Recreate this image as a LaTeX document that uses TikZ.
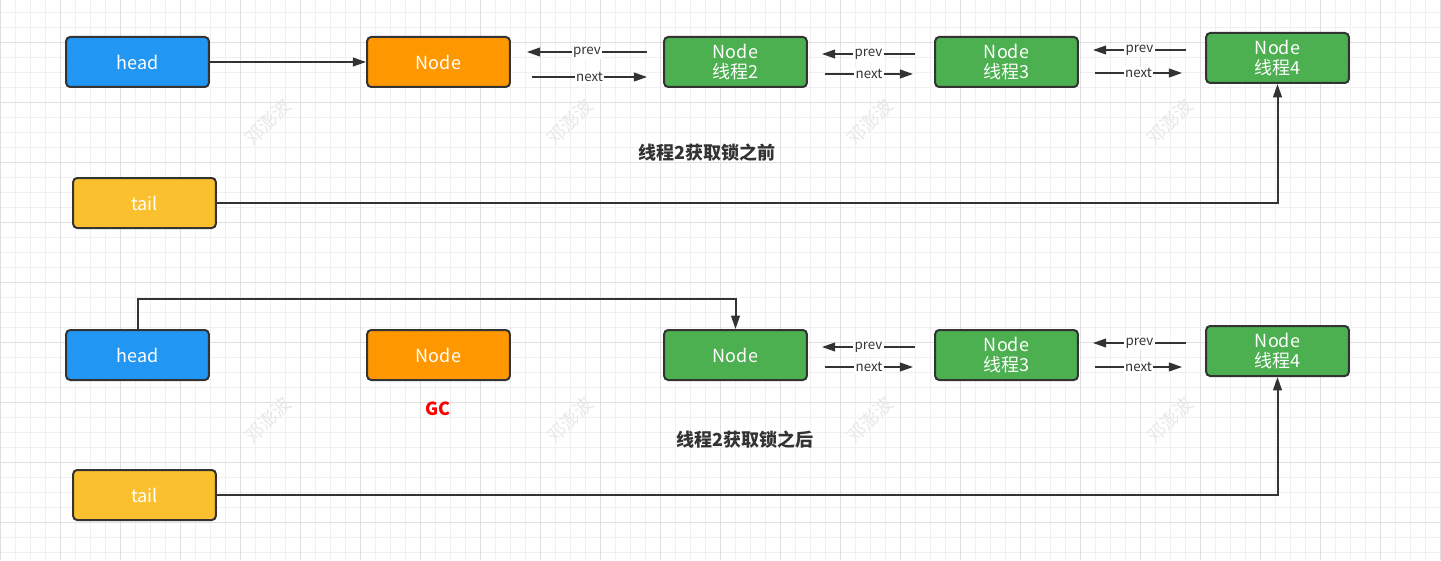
\documentclass[tikz,border=0pt]{standalone}
\usepackage{fontspec}
\setmainfont{Noto Sans CJK SC}
\usetikzlibrary{arrows.meta}
\definecolor{headblue}{HTML}{2196F3}
\definecolor{nodeorange}{HTML}{FF9800}
\definecolor{nodegreen}{HTML}{4CAF50}
\definecolor{tailyellow}{HTML}{FBC02D}
\definecolor{linegray}{HTML}{333333}
\begin{document}
\begin{tikzpicture}[x=0.75pt, y=-0.75pt,
    box/.style={draw=linegray, line width=1.5pt, rounded corners=3pt, minimum width=107pt,
        minimum height=37.5pt, inner sep=0pt, text=white, align=center,
        font=\fontsize{13.5}{15.5}\selectfont},
    ptr/.style={draw=linegray, line width=1.5pt, -{Triangle[length=10pt,width=6.5pt]}},
    lbl/.style={fill=white, inner sep=1pt, text=linegray, font=\fontsize{10}{11}\selectfont},
    caption/.style={text=linegray, font=\bfseries\fontsize{13.5}{15}\selectfont},
    wmark/.style={text=black!9, rotate=45, font=\fontsize{14}{16}\selectfont},
    minorline/.style={draw=gray!12, line width=0.5pt},
    majorline/.style={draw=gray!25, line width=0.6pt}]
    \fill [white] (0,0) rectangle (1441,560) ;
    \useasboundingbox (0,0) rectangle (1441,560) ;
    % grid paper
    \foreach \x in {0,15,...,1440} \draw [minorline] (\x,0) -- (\x,560) ;
    \foreach \y in {12,27,...,552} \draw [minorline] (0,\y) -- (1441,\y) ;
    \foreach \x in {0,60,...,1440} \draw [majorline] (\x,0) -- (\x,560) ;
    \foreach \y in {42,102,...,522} \draw [majorline] (0,\y) -- (1441,\y) ;
    \foreach \x [count=\i] in {268,570,870,1170} {
        \node [wmark] (wa\i) at (\x,122) {邓澎波} ;
        \node [wmark] (wb\i) at (\x,420) {邓澎波} ;
    }

    % before
    \node [box, fill=headblue] (headA) at (137.5,62) {head} ;
    \node [box, fill=nodeorange] (nodeA1) at (438.5,62) {Node} ;
    \node [box, fill=nodegreen] (nodeA2) at (735.5,62) {Node\\线程2} ;
    \node [box, fill=nodegreen] (nodeA3) at (1006.5,62) {Node\\线程3} ;
    \node [box, fill=nodegreen] (nodeA4) at (1277.5,58) {Node\\线程4} ;
    \node [box, fill=tailyellow] (tailA) at (144.5,203) {tail} ;
    \node [caption] (titleA) at (707,153) {线程2获取锁之前} ;

    \draw [ptr] (headA.east) -- (nodeA1.west) ;
    \draw [ptr] ([shift={(-16,-10)}]nodeA2.west) -- node [lbl] {prev} ([shift={(16,-10)}]nodeA1.east) ;
    \draw [ptr] ([shift={(21,15)}]nodeA1.east) -- node [lbl] {next} ([shift={(-16,15)}]nodeA2.west) ;
    \draw [ptr] ([shift={(-19,-8)}]nodeA3.west) -- node [lbl] {prev} ([shift={(14,-8)}]nodeA2.east) ;
    \draw [ptr] ([shift={(17,12)}]nodeA2.east) -- node [lbl] {next} ([shift={(-21,12)}]nodeA3.west) ;
    \draw [ptr] ([shift={(-19,-8)}]nodeA4.west) -- node [lbl] {prev} ([shift={(14,-12)}]nodeA3.east) ;
    \draw [ptr] ([shift={(16,11)}]nodeA3.east) -- node [lbl] {next} ([shift={(-23,15)}]nodeA4.west) ;
    \draw [ptr] (tailA.east) -| (nodeA4.south) ;

    % after
    \node [box, fill=headblue] (headB) at (137.5,355) {head} ;
    \node [box, fill=nodeorange] (nodeB1) at (438.5,355) {Node} ;
    \node [box, fill=nodegreen] (nodeB2) at (735.5,355) {Node} ;
    \node [box, fill=nodegreen] (nodeB3) at (1006.5,355) {Node\\线程3} ;
    \node [box, fill=nodegreen] (nodeB4) at (1277.5,351) {Node\\线程4} ;
    \node [box, fill=tailyellow] (tailB) at (144.5,495) {tail} ;
    \node [text=red, font=\bfseries\fontsize{13.5}{15}\selectfont] (gc) at (438,409) {GC} ;
    \node [caption] (titleB) at (745,440) {线程2获取锁之后} ;

    \draw [ptr] (headB.north) -- ++(0,-30) -| (nodeB2.north) ;
    \draw [ptr] ([shift={(-19,-8)}]nodeB3.west) -- node [lbl] {prev} ([shift={(14,-8)}]nodeB2.east) ;
    \draw [ptr] ([shift={(17,12)}]nodeB2.east) -- node [lbl] {next} ([shift={(-21,12)}]nodeB3.west) ;
    \draw [ptr] ([shift={(-19,-8)}]nodeB4.west) -- node [lbl] {prev} ([shift={(14,-12)}]nodeB3.east) ;
    \draw [ptr] ([shift={(16,12)}]nodeB3.east) -- node [lbl] {next} ([shift={(-23,16)}]nodeB4.west) ;
    \draw [ptr] (tailB.east) -| (nodeB4.south) ;
\end{tikzpicture}
\end{document}
